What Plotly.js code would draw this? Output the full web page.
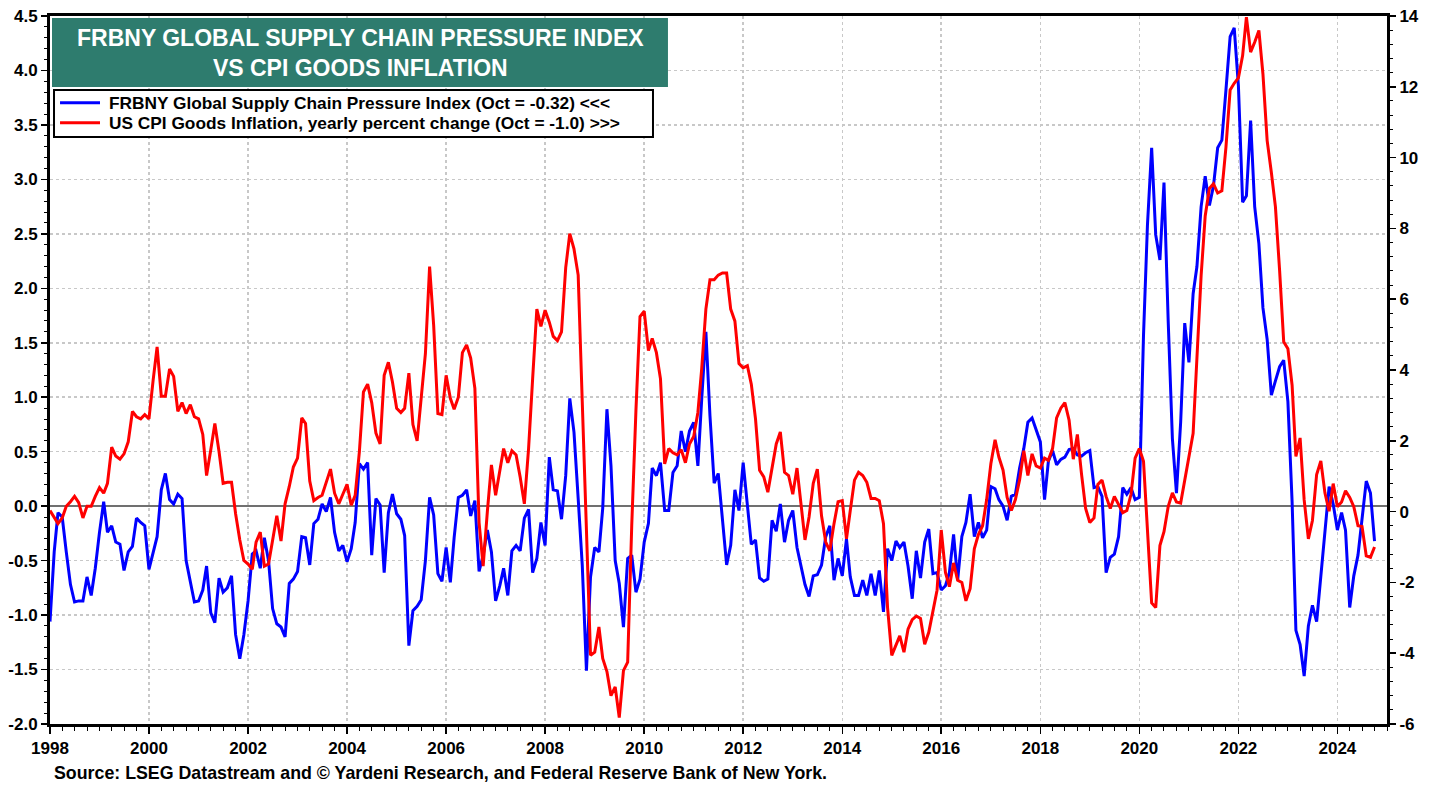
<!DOCTYPE html>
<html>
<head>
<meta charset="utf-8">
<script src="https://cdn.plot.ly/plotly-3.0.1.min.js"></script>
<style>html,body{margin:0;padding:0;background:#fff;}#chart{width:1438px;height:785px;}</style>
</head>
<body>
<div id="chart"></div>
<script>
// Monthly data, Jan 1998 .. Oct 2024
const startMonth = '1998-01';
const gscpi = [
-1.06,-0.42,-0.06,-0.10,-0.42,-0.72,-0.88,-0.87,-0.87,-0.65,-0.82,-0.57,
-0.24,0.04,-0.24,-0.18,-0.33,-0.35,-0.59,-0.42,-0.37,-0.11,-0.15,-0.18,
-0.58,-0.42,-0.28,0.15,0.30,0.06,0.02,0.11,0.07,-0.50,-0.70,-0.88,
-0.87,-0.77,-0.55,-0.98,-1.07,-0.66,-0.79,-0.75,-0.64,-1.18,-1.40,-1.18,
-0.87,-0.44,-0.41,-0.57,-0.29,-0.50,-0.94,-1.08,-1.11,-1.20,-0.71,-0.67,
-0.60,-0.28,-0.29,-0.54,-0.16,-0.12,0.02,-0.05,0.08,-0.24,-0.41,-0.36,
-0.51,-0.39,-0.15,0.39,0.34,0.40,-0.45,0.07,0.01,-0.61,-0.06,0.11,
-0.07,-0.12,-0.27,-1.28,-0.96,-0.92,-0.86,-0.50,0.08,-0.08,-0.62,-0.69,
-0.38,-0.70,-0.29,0.08,0.10,0.15,-0.09,0.05,-0.60,-0.45,-0.22,-0.42,
-0.87,-0.73,-0.57,-0.82,-0.41,-0.36,-0.41,-0.11,-0.03,-0.61,-0.48,-0.15,
-0.36,0.45,0.15,0.14,-0.12,0.28,0.99,0.68,0.07,-0.54,-1.51,-0.65,
-0.38,-0.42,-0.02,0.89,0.37,-0.50,-0.71,-1.11,-0.48,-0.45,-0.79,-0.67,
-0.33,-0.16,0.35,0.28,0.40,-0.04,-0.04,0.31,0.37,0.69,0.50,0.69,
0.77,0.37,0.98,1.60,0.83,0.21,0.30,-0.09,-0.54,-0.36,0.15,-0.04,
0.40,0.01,-0.35,-0.31,-0.66,-0.69,-0.67,-0.13,-0.23,0.02,-0.33,-0.13,
-0.04,-0.38,-0.54,-0.72,-0.83,-0.64,-0.63,-0.54,-0.28,-0.18,-0.68,-0.48,
-0.64,-0.30,-0.65,-0.82,-0.82,-0.68,-0.82,-0.62,-0.82,-0.59,-0.97,-0.39,
-0.50,-0.32,-0.38,-0.33,-0.55,-0.85,-0.41,-0.66,-0.33,-0.21,-0.62,-0.61,
-0.77,-0.73,-0.61,-0.26,-0.68,-0.28,-0.15,0.11,-0.28,-0.15,-0.29,-0.22,
0.18,0.16,0.06,0.00,-0.13,0.09,0.11,0.35,0.53,0.77,0.81,0.70,
0.59,0.06,0.41,0.51,0.38,0.43,0.45,0.52,0.53,0.47,0.46,0.49,
0.51,0.17,0.18,0.09,-0.61,-0.47,-0.44,-0.28,0.17,0.11,0.17,0.06,
0.08,1.57,2.58,3.29,2.49,2.26,2.97,1.70,0.62,0.12,0.77,1.68,
1.32,1.95,2.20,2.75,3.03,2.76,2.94,3.29,3.36,3.82,4.31,4.39,
3.86,2.79,2.85,3.54,2.75,2.41,1.82,1.53,1.02,1.15,1.28,1.34,
0.96,0.04,-1.14,-1.27,-1.56,-1.10,-0.91,-1.06,-0.62,-0.20,0.18,0.02,
-0.22,-0.06,-0.22,-0.93,-0.64,-0.45,-0.11,0.23,0.12,-0.32
];
const cpiGoods = [
0.03,-0.18,-0.34,-0.18,0.15,0.28,0.43,0.25,-0.18,0.15,0.15,0.43,
0.68,0.52,0.80,1.82,1.57,1.48,1.63,1.97,2.83,2.68,2.62,2.74,
2.62,3.72,4.65,3.26,3.26,4.03,3.82,2.83,3.08,2.77,3.02,2.68,
2.62,2.18,1.02,1.75,2.49,1.69,0.80,0.83,0.83,-0.06,-0.80,-1.38,
-1.48,-1.63,-0.86,-0.58,-1.54,-1.48,-0.77,-0.12,-0.83,0.22,0.71,1.26,
1.51,2.65,2.49,0.86,0.31,0.40,0.46,0.86,1.20,0.52,0.22,0.49,
0.77,0.18,0.46,1.69,3.38,3.60,3.08,2.22,1.91,3.85,4.22,3.66,
2.92,2.80,2.92,3.91,2.46,2.00,3.26,4.46,6.92,5.26,2.77,2.74,
3.85,3.20,2.89,3.23,4.49,4.71,4.34,3.48,-0.31,-1.54,0.00,1.32,
0.46,1.11,1.78,1.38,1.72,1.60,0.98,0.22,1.78,3.75,5.72,5.23,
5.69,5.35,4.95,4.83,5.08,6.89,7.85,7.42,6.68,3.11,-0.40,-4.06,
-3.97,-3.26,-4.15,-4.52,-5.20,-4.95,-5.82,-4.49,-4.25,-0.40,2.86,5.51,
5.66,4.55,4.89,4.49,3.75,1.35,1.78,1.66,1.60,1.75,1.38,1.91,
2.12,2.80,4.03,5.72,6.55,6.55,6.68,6.74,6.74,5.72,5.38,4.18,
4.06,4.12,3.60,2.62,1.17,0.98,0.55,1.29,1.91,2.25,1.11,1.02,
0.49,1.23,0.18,-0.80,-0.15,0.80,1.20,-0.12,-0.86,-1.11,-0.34,0.28,
0.31,-0.77,0.03,0.89,1.11,1.02,0.83,0.37,0.37,0.31,-0.34,-2.71,
-4.06,-3.78,-3.51,-3.97,-3.32,-3.05,-2.95,-3.02,-3.75,-3.41,-2.80,-2.22,
-0.52,-1.72,-2.12,-1.45,-1.94,-2.00,-2.52,-2.18,-1.05,-0.65,-0.40,0.34,
1.35,2.03,1.54,1.17,0.40,0.03,0.34,0.89,1.72,1.02,1.63,1.29,
1.23,1.51,1.45,1.78,2.65,2.92,3.08,2.58,1.48,2.18,1.05,0.09,
-0.31,-0.18,0.77,0.89,0.43,0.09,0.43,0.22,-0.03,0.03,0.49,1.51,
1.78,1.42,-0.65,-2.58,-2.71,-0.96,-0.57,0.14,0.53,0.27,0.24,0.85,
1.50,2.21,4.34,6.67,8.35,9.13,9.26,9.00,9.06,10.29,11.91,12.10,
12.25,12.88,13.97,12.98,13.26,13.59,12.36,10.48,9.58,8.61,6.80,4.80,
4.60,3.57,1.56,2.08,0.33,-0.77,-0.25,1.05,1.43,0.53,0.01,0.79,
0.14,0.27,0.59,0.40,0.14,-0.40,-0.42,-1.25,-1.29,-1.00
];
const seriesNames = [
  'FRBNY Global Supply Chain Pressure Index (Oct = -0.32) <<<',
  'US CPI Goods Inflation, yearly percent change (Oct = -1.0) >>>'
];
const seriesColors = ['#0000ff', '#ff0000'];
const titleLines = ['FRBNY GLOBAL SUPPLY CHAIN PRESSURE INDEX', 'VS CPI GOODS INFLATION'];
const sourceText = 'Source: LSEG Datastream and \u00a9 Yardeni Research, and Federal Reserve Bank of New York.';

function monthDates(start, n) {
  const [y0, m0] = start.split('-').map(Number);
  const out = [];
  for (let i = 0; i < n; i++) {
    const t = (m0 - 1) + i;
    const y = y0 + Math.floor(t / 12);
    const m = (t % 12) + 1;
    out.push(y + '-' + String(m).padStart(2, '0') + '-01');
  }
  return out;
}
const dates = monthDates(startMonth, gscpi.length);

function ticks(lo, hi, step, dec) {
  const v = [], t = [];
  const n = Math.round((hi - lo) / step);
  for (let i = 0; i <= n; i++) {
    const x = +(lo + i * step).toFixed(6);
    v.push(x); t.push(x.toFixed(dec));
  }
  return {v, t};
}
const leftT = ticks(-2, 4.5, 0.5, 1);
const rightT = ticks(-6, 14, 2, 0);

const FONT = 'Liberation Sans, Arial, Helvetica, sans-serif';

const traces = [
  {x: dates, y: gscpi, type: 'scatter', mode: 'lines', name: seriesNames[0],
   line: {color: seriesColors[0], width: 3}, yaxis: 'y'},
  {x: dates, y: cpiGoods, type: 'scatter', mode: 'lines', name: seriesNames[1],
   line: {color: seriesColors[1], width: 3}, yaxis: 'y2'}
];

const teal = '#2e7c6e';
// manual legend geometry (paper coordinates)
const legBox = {x0: 0.003, x1: 0.451, y0: 0.8291, y1: 0.8955};
const legRows = [0.8776, 0.8493];
const legLine = [0.0075, 0.0374];
const legTextX = 0.0426;

const shapes = [
  {type: 'rect', xref: 'paper', yref: 'paper', x0: 0.0015, x1: 0.4622, y0: 0.8997, y1: 0.997,
   fillcolor: teal, line: {width: 0}, layer: 'above'},
  {type: 'rect', xref: 'paper', yref: 'paper', x0: legBox.x0, x1: legBox.x1, y0: legBox.y0, y1: legBox.y1,
   fillcolor: '#ffffff', line: {color: '#000', width: 2}, layer: 'above'}
];
const annotations = [
  {xref: 'paper', yref: 'paper', x: 0.2319, y: 0.9484, xanchor: 'center', yanchor: 'middle',
   text: titleLines.join('<br>'), showarrow: false, align: 'center',
   font: {family: FONT, size: 23, color: '#ffffff', weight: 'bold'}},
  {xref: 'paper', yref: 'paper', x: 0.0015, y: -0.069, xanchor: 'left', yanchor: 'middle',
   text: sourceText, showarrow: false, align: 'left',
   font: {family: FONT, size: 17.8, color: '#000', weight: 'bold'}}
];
seriesNames.forEach((nm, i) => {
  shapes.push({type: 'line', xref: 'paper', yref: 'paper', x0: legLine[0], x1: legLine[1],
    y0: legRows[i], y1: legRows[i], line: {color: seriesColors[i], width: 3}, layer: 'above'});
  annotations.push({xref: 'paper', yref: 'paper', x: legTextX, y: legRows[i], xanchor: 'left', yanchor: 'middle',
    text: nm.replace(/</g, '&lt;').replace(/>/g, '&gt;'), showarrow: false, align: 'left',
    font: {family: FONT, size: 17.3, color: '#000', weight: 'bold'}});
});

const layout = {
  width: 1438, height: 785,
  margin: {l: 50, r: 51, t: 16, b: 61, pad: 0},
  paper_bgcolor: '#ffffff', plot_bgcolor: '#ffffff',
  font: {family: FONT, size: 16, color: '#000', weight: 'bold'},
  showlegend: false,
  xaxis: {
    type: 'date', range: ['1998-01-01', '2025-01-01'],
    tick0: '1998-01-01', dtick: 'M24', tickformat: '%Y',
    ticks: 'outside', ticklen: 7, tickwidth: 1.5, tickcolor: '#000',
    showline: true, linewidth: 3, linecolor: '#000', mirror: true,
    showgrid: true, gridcolor: '#c8c8c8', griddash: 'dot', gridwidth: 1.5,
    zeroline: false,
    minor: {dtick: 'M3', ticks: 'outside', ticklen: 4, tickwidth: 1, tickcolor: '#000', showgrid: false},
    tickfont: {family: FONT, size: 17, color: '#000', weight: 'bold'}
  },
  yaxis: {
    range: [-2, 4.5], tickmode: 'array', tickvals: leftT.v, ticktext: leftT.t,
    ticks: 'outside', ticklen: 6, tickwidth: 1.5, tickcolor: '#000',
    showline: true, linewidth: 3, linecolor: '#000', mirror: true,
    showgrid: true, gridcolor: '#c8c8c8', griddash: 'dot', gridwidth: 1.5,
    zeroline: true, zerolinecolor: '#707070', zerolinewidth: 1.5,
    minor: {tickmode: 'linear', tick0: 0, dtick: 0.1, ticks: 'outside', ticklen: 3, tickwidth: 1, tickcolor: '#000', showgrid: false},
    tickfont: {family: FONT, size: 17, color: '#000', weight: 'bold'}
  },
  yaxis2: {
    overlaying: 'y', side: 'right', range: [-6, 14],
    tickmode: 'array', tickvals: rightT.v, ticktext: rightT.t,
    ticks: 'outside', ticklen: 6, tickwidth: 1.5, tickcolor: '#000',
    showline: true, linewidth: 3, linecolor: '#000',
    showgrid: false, zeroline: false,
    minor: {tickmode: 'linear', tick0: -6, dtick: 0.4, ticks: 'outside', ticklen: 3, tickwidth: 1, tickcolor: '#000', showgrid: false},
    tickfont: {family: FONT, size: 17, color: '#000', weight: 'bold'}
  },
  shapes: shapes,
  annotations: annotations
};

Plotly.newPlot('chart', traces, layout, {displayModeBar: false, staticPlot: true});
</script>
</body>
</html>
